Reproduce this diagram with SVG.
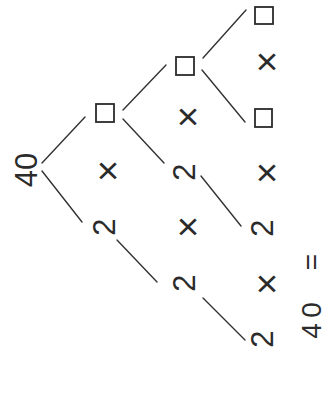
<svg xmlns="http://www.w3.org/2000/svg" width="326" height="396" viewBox="0 0 326 396">
<style>
.t{font-family:"Liberation Sans",Arial,sans-serif;font-size:31px;fill:#2b2b2b;text-anchor:middle;dominant-baseline:central}
.x{font-size:38px}
.b{fill:none;stroke:#2b2b2b;stroke-width:1.8}
.c line{stroke:#333;stroke-width:1.4;stroke-linecap:round}
.h{font-family:"Liberation Sans",Arial,sans-serif;font-size:28px;fill:#2b2b2b;text-anchor:middle;dominant-baseline:central}
</style>
<rect width="326" height="396" fill="#fff"/>
<g class="c" id="connectors">
<line x1="42" y1="163" x2="85" y2="117"/>
<line x1="42" y1="171" x2="82" y2="222"/>
<line x1="123" y1="110" x2="166" y2="65"/>
<line x1="123" y1="119" x2="164" y2="163"/>
<line x1="117" y1="240" x2="157" y2="282"/>
<line x1="203" y1="58" x2="246" y2="10"/>
<line x1="202" y1="70" x2="245" y2="122"/>
<line x1="201" y1="176" x2="241" y2="226"/>
<line x1="203" y1="298" x2="245" y2="340"/>
</g>
<g id="n40"><text class="t" transform="translate(26,170) rotate(-90)">40</text></g>
<g id="box1"><rect class="b" x="96" y="104" width="18" height="18"/></g>
<g id="x1"><text class="t x" transform="translate(108,171) rotate(-90)">×</text></g>
<g id="two1"><text class="t" transform="translate(104,227) rotate(-90)">2</text></g>
<g id="box2"><rect class="b" x="176" y="57" width="18" height="18"/></g>
<g id="x2"><text class="t x" transform="translate(188,117) rotate(-90)">×</text></g>
<g id="two2"><text class="t" transform="translate(184,172) rotate(-90)">2</text></g>
<g id="x3"><text class="t x" transform="translate(188,227) rotate(-90)">×</text></g>
<g id="two3"><text class="t" transform="translate(184,283) rotate(-90)">2</text></g>
<g id="box3"><rect class="b" x="255" y="7" width="18" height="17"/></g>
<g id="x4"><text class="t x" transform="translate(267,62) rotate(-90)">×</text></g>
<g id="box4"><rect class="b" x="255" y="109" width="17" height="18"/></g>
<g id="x5"><text class="t x" transform="translate(267,173) rotate(-90)">×</text></g>
<g id="two4"><text class="t" transform="translate(262,228) rotate(-90)">2</text></g>
<g id="x6"><text class="t x" transform="translate(267,284) rotate(-90)">×</text></g>
<g id="two5"><text class="t" transform="translate(262,339) rotate(-90)">2</text></g>
<g id="result"><text class="h" transform="translate(311,0) rotate(-90)" x="-331 -310 -290 -262">40 =</text></g>
</svg>
